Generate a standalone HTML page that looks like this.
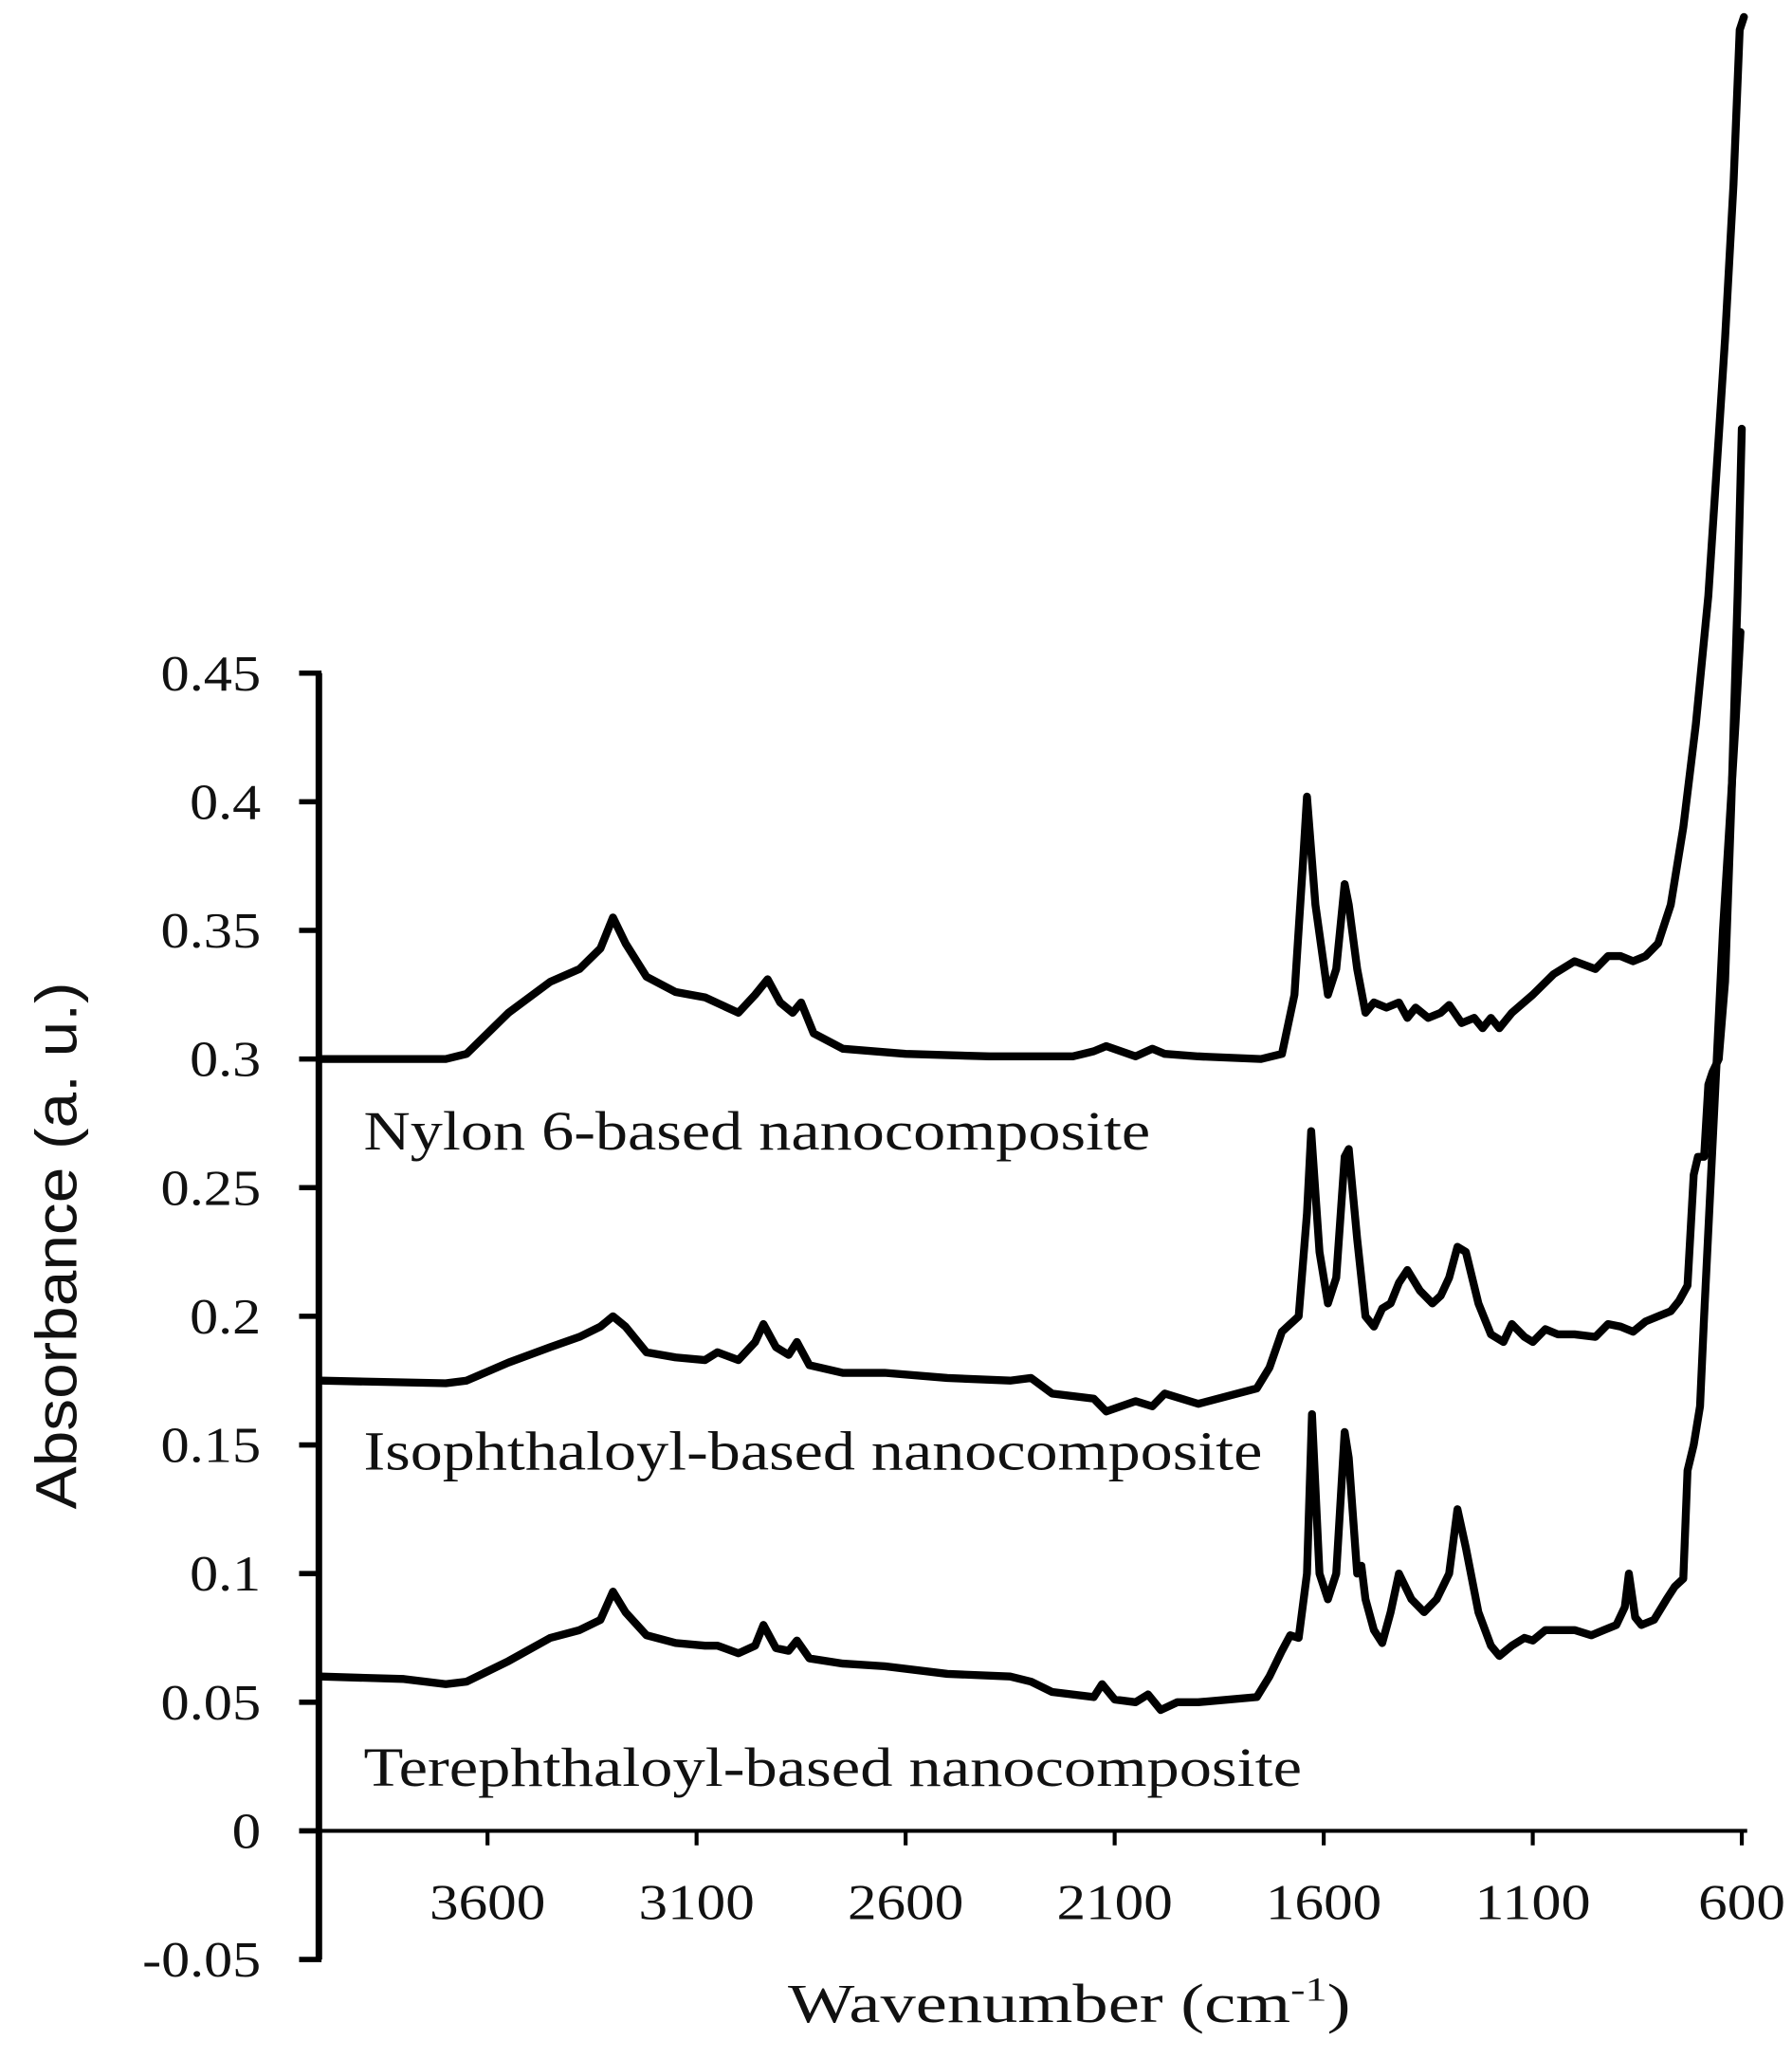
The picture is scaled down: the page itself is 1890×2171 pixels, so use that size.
<!DOCTYPE html>
<html><head><meta charset="utf-8"><style>
html,body{margin:0;padding:0;background:#fff;}
svg{display:block;}
text{font-family:"Liberation Serif",serif;fill:#111;}
</style></head><body>
<svg id="chart" width="1890" height="2171" viewBox="0 0 1360 1562" xmlns="http://www.w3.org/2000/svg">
<g id="axes"></g>
<g id="series"></g>
<text x="276" y="872" font-size="42" textLength="597" lengthAdjust="spacingAndGlyphs">Nylon 6-based nanocomposite</text>
<text x="276" y="1115" font-size="42" textLength="682" lengthAdjust="spacingAndGlyphs">Isophthaloyl-based nanocomposite</text>
<text x="276" y="1355" font-size="42" textLength="712" lengthAdjust="spacingAndGlyphs">Terephthaloyl-based nanocomposite</text>
<text x="598" y="1534" font-size="42" textLength="427" lengthAdjust="spacingAndGlyphs">Wavenumber (cm<tspan font-size="26" dy="-16">-1</tspan><tspan dy="16">)</tspan></text>
<text transform="translate(58,945) rotate(-90)" font-size="44" text-anchor="middle" style="font-family:'Liberation Sans Narrow','Liberation Sans',sans-serif" textLength="400" lengthAdjust="spacingAndGlyphs">Absorbance (a. u.)</text>
</svg>
<script>
const yTicks = [0.45,0.4,0.35,0.3,0.25,0.2,0.15,0.1,0.05,0,-0.05];
const yTickLabels = ["0.45","0.4","0.35","0.3","0.25","0.2","0.15","0.1","0.05","0","-0.05"];
const xTicks = [3600,3100,2600,2100,1600,1100,600];
const xTickLabels = ["3600","3100","2600","2100","1600","1100","600"];
const nylonWn = [4000,3700,3650,3550,3450,3380,3330,3300,3270,3220,3150,3080,3000,2960,2930,2900,2870,2850,2820,2750,2600,2400,2200,2150,2120,2050,2010,1980,1900,1750,1700,1670,1650,1640,1620,1590,1570,1550,1540,1520,1500,1480,1450,1420,1400,1380,1350,1320,1300,1270,1240,1220,1200,1180,1150,1100,1050,1000,950,920,890,860,830,800,770,740,710,680,660,640,620,605,595];
const nylonAbs = [0.300,0.300,0.302,0.318,0.330,0.335,0.343,0.355,0.345,0.332,0.326,0.324,0.318,0.325,0.331,0.322,0.318,0.322,0.310,0.304,0.302,0.301,0.301,0.303,0.305,0.301,0.304,0.302,0.301,0.300,0.302,0.325,0.375,0.402,0.360,0.325,0.335,0.368,0.360,0.335,0.318,0.322,0.320,0.322,0.316,0.320,0.316,0.318,0.321,0.314,0.316,0.312,0.316,0.312,0.318,0.325,0.333,0.338,0.335,0.340,0.340,0.338,0.340,0.345,0.360,0.390,0.430,0.480,0.530,0.580,0.640,0.700,0.705];
const isoWn = [4000,3700,3650,3550,3450,3380,3330,3300,3270,3220,3150,3080,3050,3000,2960,2940,2910,2880,2860,2830,2750,2650,2500,2350,2300,2250,2150,2120,2050,2010,1980,1900,1760,1730,1700,1680,1660,1640,1630,1610,1590,1570,1550,1540,1520,1500,1480,1460,1440,1420,1400,1370,1340,1320,1300,1280,1260,1230,1200,1170,1150,1120,1100,1070,1040,1000,950,920,890,860,830,800,770,750,730,715,705,690,680,670,655,640,625,610,600];
const isoAbs = [0.175,0.174,0.175,0.182,0.188,0.192,0.196,0.200,0.196,0.186,0.184,0.183,0.186,0.183,0.190,0.197,0.188,0.185,0.190,0.181,0.178,0.178,0.176,0.175,0.176,0.170,0.168,0.163,0.167,0.165,0.170,0.166,0.172,0.180,0.194,0.197,0.200,0.240,0.272,0.225,0.205,0.215,0.262,0.265,0.230,0.200,0.196,0.203,0.205,0.213,0.218,0.210,0.205,0.208,0.215,0.227,0.225,0.205,0.193,0.190,0.197,0.192,0.190,0.195,0.193,0.193,0.192,0.197,0.196,0.194,0.198,0.200,0.202,0.206,0.212,0.255,0.262,0.262,0.290,0.295,0.300,0.330,0.400,0.480,0.545];
const terWn = [4000,3800,3700,3650,3550,3450,3380,3330,3300,3270,3220,3150,3080,3050,3000,2960,2940,2910,2880,2860,2830,2750,2650,2500,2350,2300,2250,2150,2130,2100,2050,2020,1990,1950,1900,1760,1730,1700,1680,1660,1640,1628,1610,1590,1570,1550,1540,1520,1510,1500,1480,1460,1440,1420,1390,1360,1330,1300,1280,1260,1230,1200,1180,1150,1120,1100,1070,1040,1000,960,930,900,880,870,855,840,810,780,760,740,730,715,700,690,675,660,645,630,615,603];
const terAbs = [0.060,0.059,0.057,0.058,0.066,0.075,0.078,0.082,0.093,0.085,0.076,0.073,0.072,0.072,0.069,0.072,0.080,0.071,0.070,0.074,0.067,0.065,0.064,0.061,0.060,0.058,0.054,0.052,0.057,0.051,0.050,0.053,0.047,0.050,0.050,0.052,0.060,0.070,0.076,0.075,0.100,0.162,0.100,0.090,0.100,0.155,0.145,0.100,0.103,0.090,0.078,0.073,0.085,0.100,0.090,0.085,0.090,0.100,0.125,0.110,0.085,0.072,0.068,0.072,0.075,0.074,0.078,0.078,0.078,0.076,0.078,0.080,0.087,0.100,0.083,0.080,0.082,0.090,0.095,0.098,0.140,0.150,0.165,0.200,0.250,0.300,0.350,0.390,0.430,0.466];

const NS='http://www.w3.org/2000/svg';
function xs(w){return 370+(3600-w)*0.3173;}
function ys(v){return 1389-v*1952;}
function tw(s){let w=0;for(const c of s){w+= c==='.'?10:(c==='-'?14:22);}return w;}
const axes=document.getElementById('axes');
function mk(tag,attrs,parent){const e=document.createElementNS(NS,tag);for(const k in attrs)e.setAttribute(k,attrs[k]);parent.appendChild(e);return e;}
let yl=mk('line',{x1:242,y1:ys(0.45),x2:242,y2:ys(-0.05),stroke:'#000','stroke-width':5},axes);


let xl=mk('line',{x1:240,y1:ys(0),x2:1326,y2:ys(0),stroke:'#000','stroke-width':3},axes);


yTicks.forEach((t,i)=>{
  let l=mk('line',{x1:227,y1:ys(t),x2:244,y2:ys(t),stroke:'#000','stroke-width':4},axes);
  
  
  const s=yTickLabels[i];
  let tx=mk('text',{x:198-tw(s),y:ys(t)+13,'font-size':38,textLength:tw(s),lengthAdjust:'spacingAndGlyphs'},axes);
  tx.textContent=s;
  
  
});
xTicks.forEach((t,i)=>{
  let l=mk('line',{x1:xs(t),y1:ys(0),x2:xs(t),y2:ys(0)+11,stroke:'#000','stroke-width':3},axes);
  
  
  const s=xTickLabels[i];
  let tx=mk('text',{x:xs(t)-tw(s)/2,y:1456,'font-size':38,textLength:tw(s),lengthAdjust:'spacingAndGlyphs'},axes);
  tx.textContent=s;
  
  
});
const sg=document.getElementById('series');
function line(wn,ab,name){
  const d=wn.map((w,i)=>(i?'L':'M')+xs(w).toFixed(1)+','+ys(ab[i]).toFixed(1)).join(' ');
  const p=mk('path',{d:d,fill:'none',stroke:'#000','stroke-width':6,'stroke-linejoin':'round','stroke-linecap':'round'},sg);
  
  
}
line(nylonWn,nylonAbs,'nylon-spectrum');
line(isoWn,isoAbs,'isophthaloyl-spectrum');
line(terWn,terAbs,'terephthaloyl-spectrum');
</script>
</body></html>
